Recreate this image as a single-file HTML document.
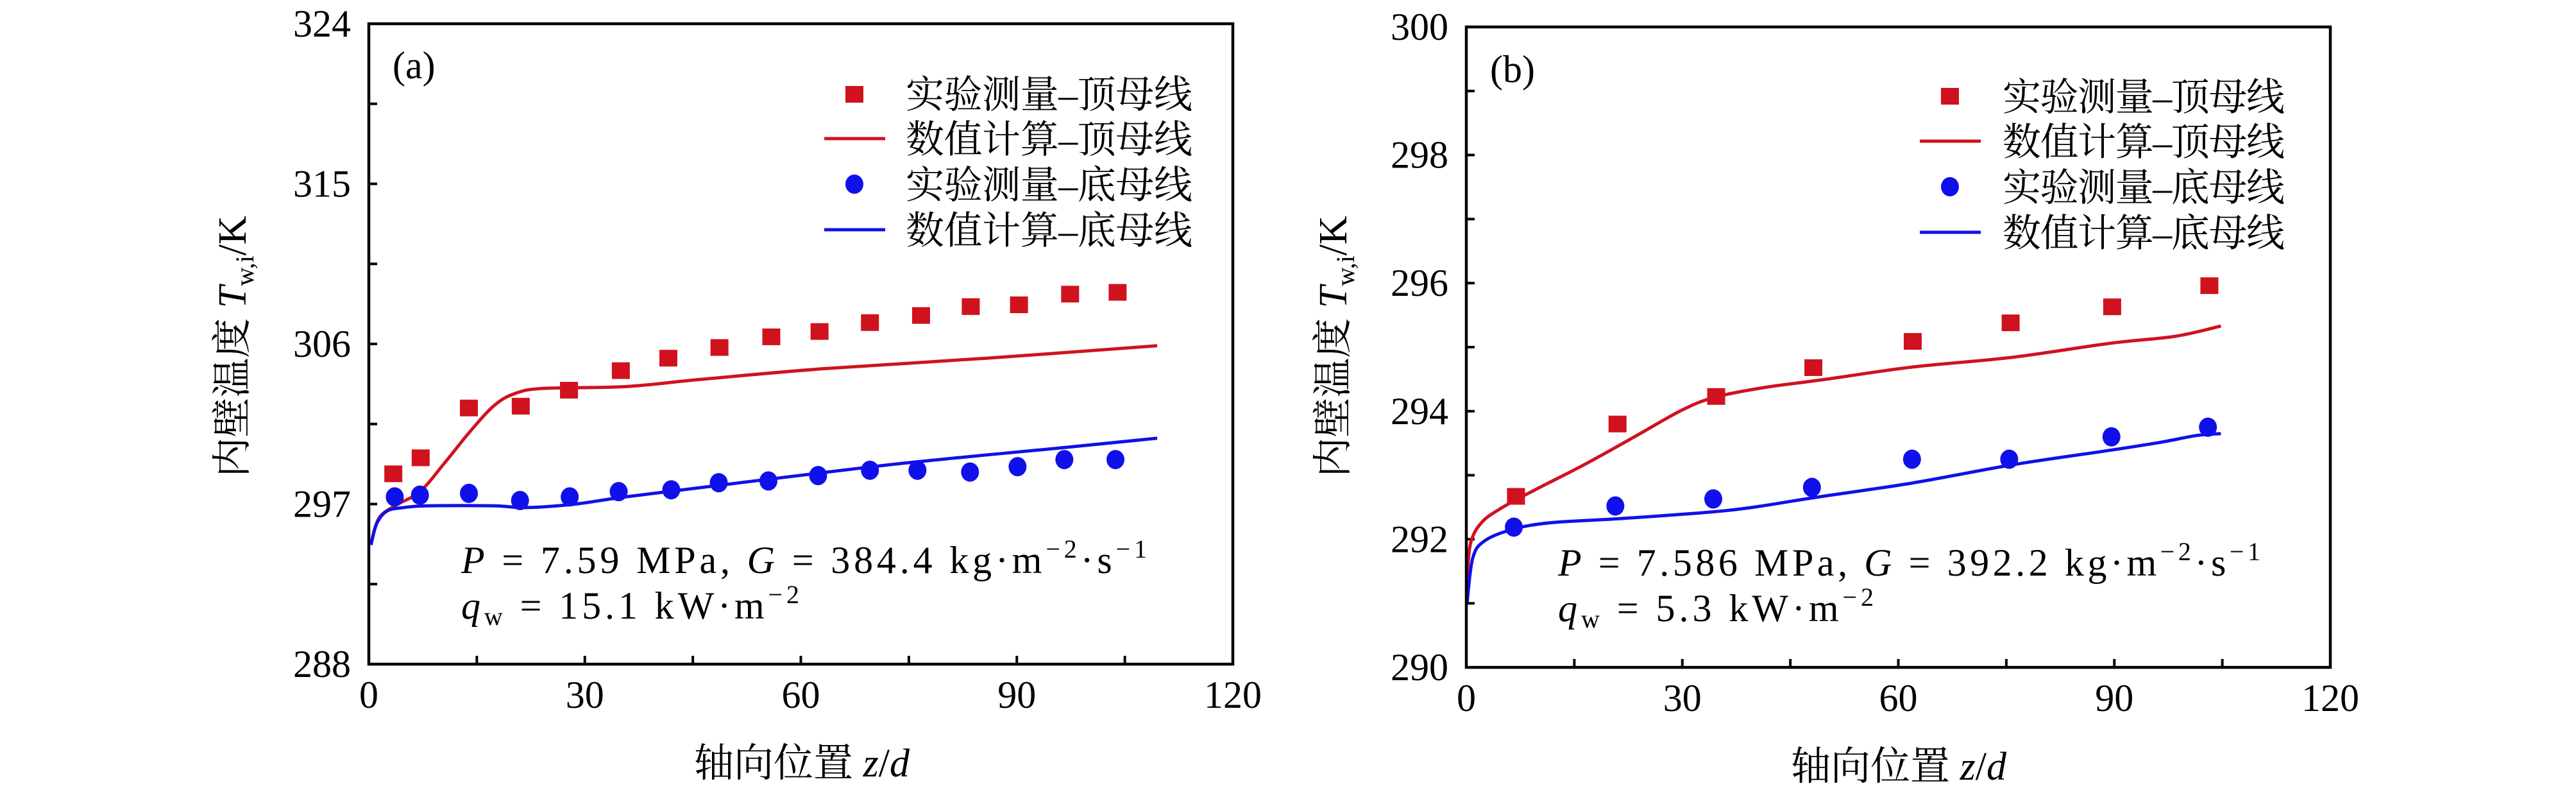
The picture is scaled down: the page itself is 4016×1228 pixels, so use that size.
<!DOCTYPE html>
<html><head><meta charset="utf-8">
<style>
html,body{margin:0;padding:0;background:#fff;}
svg{display:block;}
text{font-family:"Liberation Serif","Noto Serif CJK SC",serif;fill:#000;}
</style></head>
<body>
<svg id="fig" width="4016" height="1228" viewBox="0 0 4016 1228" xmlns="http://www.w3.org/2000/svg">
<g id="pa"></g>
<g id="pb"></g>
</svg>
<script>
// Panel (a) data
const aTopExpZ = [3.4,7.2,13.9,21.1,27.8,35.0,41.6,48.7,55.9,62.6,69.6,76.7,83.6,90.3,97.4,104.0];
const aTopExpT = [298.7,299.6,302.4,302.5,303.4,304.5,305.2,305.8,306.4,306.7,307.2,307.6,308.1,308.2,308.8,308.9];
const aBotExpZ = [3.6,7.1,13.9,21.0,27.9,34.7,42.0,48.6,55.5,62.4,69.6,76.2,83.5,90.1,96.6,103.7];
const aBotExpT = [297.4,297.5,297.6,297.2,297.4,297.7,297.8,298.2,298.3,298.6,298.9,298.9,298.8,299.1,299.5,299.5];
const aTopNumZ = [0.3,1.4,3.6,7.1,10.5,13.9,17.3,20.2,24.2,35.6,45.9,62.9,85.8,109.5];
const aTopNumT = [294.8,296.2,296.9,297.7,299.3,301.0,302.5,303.2,303.5,303.6,304.0,304.6,305.2,305.9];
const aBotNumZ = [0.3,1.1,2.5,4.8,8.2,17.3,21.9,28.7,35.6,51.6,74.4,97.2,109.5];
const aBotNumT = [294.7,295.9,296.6,296.8,296.9,296.9,296.8,297.0,297.4,298.2,299.3,300.2,300.7];
const aYTicks = [288,297,306,315,324];
const xTicks = [0,30,60,90,120];
// Panel (b) data
const bTopExpZ = [6.9,21.0,34.7,48.2,62.0,75.6,89.7,103.2];
const bTopExpT = [292.67,293.80,294.23,294.68,295.09,295.38,295.63,295.96];
const bBotExpZ = [6.6,20.7,34.3,48.0,61.9,75.4,89.6,103.0];
const bBotExpT = [292.19,292.52,292.63,292.81,293.25,293.25,293.60,293.75];
const bTopNumZ = [0.1,0.6,2.1,4.9,9.5,16.3,23.2,30.0,34.6,41.4,49.4,62.0,75.7,89.4,98.5,104.8];
const bTopNumT = [291.4,291.94,292.26,292.49,292.77,293.16,293.59,294.02,294.22,294.37,294.49,294.69,294.84,295.06,295.17,295.33];
const bBotNumZ = [0.1,0.9,2.6,6.6,11.8,20.9,32.3,39.2,48.3,62.0,75.7,89.4,96.2,101.4,104.8];
const bBotNumT = [291.0,291.71,291.98,292.16,292.26,292.32,292.41,292.49,292.65,292.88,293.16,293.39,293.51,293.62,293.65];
const bYTicks = [290,292,294,296,298,300];

const NS="http://www.w3.org/2000/svg";
const RED="#d0121e", BLUE="#1010ea";
function mk(tag,attrs,parent){const e=document.createElementNS(NS,tag);for(const k in attrs)e.setAttribute(k,attrs[k]);parent.appendChild(e);return e;}

function smoothPath(pts){
  let d='M'+pts[0][0].toFixed(1)+','+pts[0][1].toFixed(1);
  for(let i=0;i<pts.length-1;i++){
    const p0=pts[i-1]||pts[i],p1=pts[i],p2=pts[i+1],p3=pts[i+2]||p2;
    const c1=[p1[0]+(p2[0]-p0[0])/6,p1[1]+(p2[1]-p0[1])/6];
    const c2=[p2[0]-(p3[0]-p1[0])/6,p2[1]-(p3[1]-p1[1])/6];
    d+=' C'+c1.map(v=>v.toFixed(1)).join(',')+' '+c2.map(v=>v.toFixed(1)).join(',')+' '+p2.map(v=>v.toFixed(1)).join(',');
  }
  return d;
}

function panel(g,cfg){
  const L=cfg.L,R=cfg.R,T=cfg.T,B=cfg.B;
  const sx=z=>L+(z-0)/120*(R-L);
  const sy=v=>B-(v-cfg.ymin)/(cfg.ymax-cfg.ymin)*(B-T);
  for(let z=15;z<120;z+=15){
    const t=mk('line',{x1:sx(z),x2:sx(z),y1:B,y2:B-13,stroke:'#000','stroke-width':4},g);
    
    
  }
  const ys=cfg.yTicks;
  for(let i=0;i<ys.length;i++){
    const lab=mk('text',{x:L-28,y:sy(ys[i])+20,'text-anchor':'end','font-size':60},g);
    lab.textContent=ys[i];
    
    
    if(i<ys.length-1){
      const step=ys[1]-ys[0];
      const vals=[ys[i]+step/2]; if(i>0) vals.unshift(ys[i]);
      vals.forEach(v=>{
        const t=mk('line',{x1:L,x2:L+13,y1:sy(v),y2:sy(v),stroke:'#000','stroke-width':4},g);
        
        
      });
    }
  }
  xTicks.forEach(z=>{
    const lab=mk('text',{x:sx(z),y:B+68,'text-anchor':'middle','font-size':60},g);
    lab.textContent=z;
    
    
  });
  function line(zs,ts,col,name){
    const pts=zs.map((z,i)=>[sx(z),sy(ts[i])]);
    const e=mk('path',{d:smoothPath(pts),fill:'none',stroke:col,'stroke-width':5,'stroke-linejoin':'round'},g);
    
    
  }
  line(cfg.tnz,cfg.tnt,RED,'top-numerical-line');
  line(cfg.bnz,cfg.bnt,BLUE,'bottom-numerical-line');
  cfg.tez.forEach((z,i)=>{
    const e=mk('rect',{x:sx(z)-14,y:sy(cfg.tet[i])-13,width:28,height:26,fill:RED},g);
    
    
  });
  cfg.bez.forEach((z,i)=>{
    const e=mk('ellipse',{cx:sx(z),cy:sy(cfg.bet[i]),rx:14,ry:15,fill:BLUE},g);
    
    
  });
  const frame=mk('rect',{x:L,y:T,width:R-L,height:B-T,fill:'none',stroke:'#000','stroke-width':4.5},g);
  
  
}

panel(document.getElementById('pa'),{L:575,R:1922,T:37,B:1035,ymin:288,ymax:324,yTicks:aYTicks,
  tez:aTopExpZ,tet:aTopExpT,bez:aBotExpZ,bet:aBotExpT,tnz:aTopNumZ,tnt:aTopNumT,bnz:aBotNumZ,bnt:aBotNumT});
panel(document.getElementById('pb'),{L:2286,R:3633,T:42,B:1040,ymin:290,ymax:300,yTicks:bYTicks,
  tez:bTopExpZ,tet:bTopExpT,bez:bBotExpZ,bet:bBotExpT,tnz:bTopNumZ,tnt:bTopNumT,bnz:bBotNumZ,bnt:bBotNumT});
</script>
<script>
const fig=document.getElementById('fig');
function addText(html){fig.insertAdjacentHTML('beforeend',html);}
addText(`
<g>
<text x="612" y="122" font-size="60">(a)</text>
<text transform="translate(383,540) rotate(-90)" text-anchor="middle" font-size="62">内壁温度 <tspan font-style="italic">T</tspan><tspan font-size="40" dy="12">w,i</tspan><tspan dy="-12">/K</tspan></text>
<text x="1250" y="1210" text-anchor="middle" font-size="62">轴向位置 <tspan font-style="italic">z</tspan>/<tspan font-style="italic">d</tspan></text>
<g>
<rect x="1318" y="134" width="28" height="26" fill="#d0121e"/>
<text x="1412" y="168" font-size="60" textLength="447">实验测量–顶母线</text>
<line x1="1285" x2="1380" y1="216" y2="216" stroke="#d0121e" stroke-width="5"/>
<text x="1412" y="238" font-size="60" textLength="447">数值计算–顶母线</text>
<ellipse cx="1332" cy="287" rx="14" ry="15" fill="#1010ea"/>
<text x="1412" y="309" font-size="60" textLength="447">实验测量–底母线</text>
<line x1="1285" x2="1380" y1="358" y2="358" stroke="#1010ea" stroke-width="5"/>
<text x="1412" y="380" font-size="60" textLength="447">数值计算–底母线</text>
</g>
<text x="719" y="893" font-size="60" textLength="1069" lengthAdjust="spacing"><tspan font-style="italic">P</tspan> = 7.59 MPa, <tspan font-style="italic">G</tspan> = 384.4 kg·m<tspan font-size="40" dy="-24">−2</tspan><tspan dy="24">·s</tspan><tspan font-size="40" dy="-24">−1</tspan></text>
<text x="719" y="964" font-size="60" textLength="527" lengthAdjust="spacing"><tspan font-style="italic">q</tspan><tspan font-size="40" dy="10">w</tspan><tspan dy="-10"> = 15.1 kW·m</tspan><tspan font-size="40" dy="-24">−2</tspan></text>
</g>
<g>
<text x="2323" y="128" font-size="60">(b)</text>
<text transform="translate(2099,540) rotate(-90)" text-anchor="middle" font-size="62">内壁温度 <tspan font-style="italic">T</tspan><tspan font-size="40" dy="12">w,i</tspan><tspan dy="-12">/K</tspan></text>
<text x="2960" y="1215" text-anchor="middle" font-size="62">轴向位置 <tspan font-style="italic">z</tspan>/<tspan font-style="italic">d</tspan></text>
<g>
<rect x="3026" y="137" width="28" height="26" fill="#d0121e"/>
<text x="3122" y="172" font-size="60" textLength="440">实验测量–顶母线</text>
<line x1="2993" x2="3088" y1="220" y2="220" stroke="#d0121e" stroke-width="5"/>
<text x="3122" y="242" font-size="60" textLength="440">数值计算–顶母线</text>
<ellipse cx="3040" cy="291" rx="14" ry="15" fill="#1010ea"/>
<text x="3122" y="313" font-size="60" textLength="440">实验测量–底母线</text>
<line x1="2993" x2="3088" y1="362" y2="362" stroke="#1010ea" stroke-width="5"/>
<text x="3122" y="384" font-size="60" textLength="440">数值计算–底母线</text>
</g>
<text x="2429" y="897" font-size="60" textLength="1095" lengthAdjust="spacing"><tspan font-style="italic">P</tspan> = 7.586 MPa, <tspan font-style="italic">G</tspan> = 392.2 kg·m<tspan font-size="40" dy="-24">−2</tspan><tspan dy="24">·s</tspan><tspan font-size="40" dy="-24">−1</tspan></text>
<text x="2429" y="968" font-size="60" textLength="492" lengthAdjust="spacing"><tspan font-style="italic">q</tspan><tspan font-size="40" dy="10">w</tspan><tspan dy="-10"> = 5.3 kW·m</tspan><tspan font-size="40" dy="-24">−2</tspan></text>
</g>`);
</script>
</body></html>
